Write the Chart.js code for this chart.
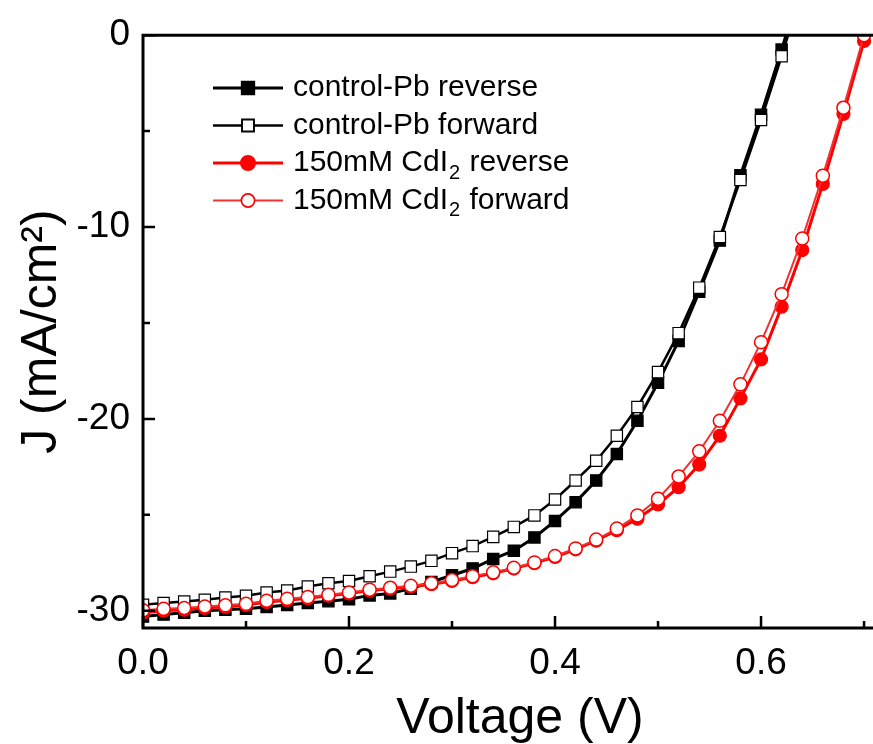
<!DOCTYPE html>
<html>
<head>
<meta charset="utf-8">
<script src="https://cdn.jsdelivr.net/npm/chart.js@4.4.0/dist/chart.umd.min.js"></script>
<style>
  html, body { margin: 0; padding: 0; background: #fff; overflow: hidden; }
  #wrap { width: 873px; height: 744px; overflow: hidden; }
</style>
</head>
<body>
<div id="wrap"><canvas id="canvas" width="897" height="744"></canvas></div>
<script>
// voltage steps (V)
const voltage = [0.00, 0.02, 0.04, 0.06, 0.08, 0.10, 0.12, 0.14, 0.16, 0.18,
  0.20, 0.22, 0.24, 0.26, 0.28, 0.30, 0.32, 0.34, 0.36, 0.38,
  0.40, 0.42, 0.44, 0.46, 0.48, 0.50, 0.52, 0.54, 0.56, 0.58,
  0.60, 0.62, 0.64, 0.66, 0.68, 0.70];

// current density (mA/cm2)
const pbReverse = [-30.3, -30.2, -30.1, -30.0, -29.95, -29.9, -29.8, -29.7, -29.6, -29.5,
  -29.4, -29.2, -29.1, -28.85, -28.5, -28.15, -27.8, -27.3, -26.87, -26.18,
  -25.32, -24.34, -23.21, -21.83, -20.1, -18.12, -15.94, -13.37, -10.7, -7.3,
  -4.15, -0.75, 2.8];
const pbForward = [-29.69, -29.6, -29.52, -29.43, -29.31, -29.22, -29.05, -28.95, -28.74, -28.57,
  -28.45, -28.2, -27.96, -27.7, -27.4, -27.0, -26.63, -26.15, -25.63, -25.03,
  -24.2, -23.21, -22.18, -20.88, -19.38, -17.56, -15.53, -13.16, -10.52, -7.55,
  -4.42, -1.1, 2.4];
const cdReverse = [-30.1, -30.0, -29.95, -29.85, -29.8, -29.7, -29.55, -29.45, -29.35, -29.22,
  -29.1, -28.95, -28.85, -28.75, -28.62, -28.45, -28.25, -28.05, -27.8, -27.52,
  -27.2, -26.8, -26.35, -25.8, -25.2, -24.46, -23.56, -22.38, -20.88, -18.93,
  -16.9, -14.15, -11.2, -7.75, -4.1, -0.3];
const cdForward = [-29.98, -29.9, -29.86, -29.78, -29.72, -29.64, -29.48, -29.38, -29.29, -29.17,
  -29.05, -28.9, -28.8, -28.7, -28.57, -28.4, -28.2, -28.0, -27.76, -27.48,
  -27.15, -26.75, -26.29, -25.72, -25.03, -24.16, -23.0, -21.69, -20.1, -18.2,
  -16.0, -13.5, -10.6, -7.32, -3.78, 0.0];

const xTicks = [0, 0.2, 0.4, 0.6];
const xMinor = [0.1, 0.3, 0.5, 0.7];
const yTicks = [-30, -20, -10, 0];
const yMinor = [-25, -15, -5];

const FONT = "'Liberation Sans', Arial, sans-serif";
const RED = '#ff0000';

function pts(ys) {
  return ys.map((y, i) => ({ x: voltage[i], y: y }));
}

const dataC = {
  datasets: [
    {
      label: 'control-Pb reverse',
      data: pts(pbReverse),
      borderColor: '#000', backgroundColor: '#000',
      borderWidth: 3, pointStyle: 'rect', pointRadius: 8,
      pointBorderWidth: 1.2, pointBorderColor: '#000', pointBackgroundColor: '#000',
      order: 4,
    },
    {
      label: 'control-Pb forward',
      data: pts(pbForward),
      borderColor: '#000', backgroundColor: '#fff',
      borderWidth: 2.5, pointStyle: 'rect', pointRadius: 8,
      pointBorderWidth: 1.2, pointBorderColor: '#000', pointBackgroundColor: '#fff',
      order: 3,
    },
    {
      label: '150mM CdI|2| reverse',
      data: pts(cdReverse),
      borderColor: RED, backgroundColor: RED,
      borderWidth: 3, pointStyle: 'circle', pointRadius: 6.5,
      pointBorderWidth: 1.2, pointBorderColor: RED, pointBackgroundColor: RED,
      order: 2,
    },
    {
      label: '150mM CdI|2| forward',
      data: pts(cdForward),
      borderColor: 'rgb(240,50,50)', backgroundColor: '#fff',
      borderWidth: 2, pointStyle: 'circle', pointRadius: 6.5,
      pointBorderWidth: 1.5, pointBorderColor: RED, pointBackgroundColor: '#fff',
      order: 1,
    },
  ],
};

// frame with inward ticks + hand drawn legend
const framePlugin = {
  id: 'frame',
  afterDatasetsDraw(chart) {
    const { ctx, chartArea: a, scales } = chart;
    const xs = scales.x, ys = scales.y;
    ctx.save();
    ctx.strokeStyle = '#000';
    ctx.lineWidth = 3;
    ctx.beginPath();
    ctx.moveTo(a.right + 2, a.top); ctx.lineTo(a.left, a.top);
    ctx.lineTo(a.left, a.bottom); ctx.lineTo(a.right + 2, a.bottom);
    ctx.stroke();
    ctx.lineWidth = 2.5;
    ctx.beginPath();
    xTicks.forEach(v => { const p = xs.getPixelForValue(v); ctx.moveTo(p, a.bottom); ctx.lineTo(p, a.bottom - 12); });
    xMinor.forEach(v => { const p = xs.getPixelForValue(v); ctx.moveTo(p, a.bottom); ctx.lineTo(p, a.bottom - 7); });
    yTicks.forEach(v => { const p = ys.getPixelForValue(v); ctx.moveTo(a.left, p); ctx.lineTo(a.left + 12, p); });
    yMinor.forEach(v => { const p = ys.getPixelForValue(v); ctx.moveTo(a.left, p); ctx.lineTo(a.left + 7, p); });
    ctx.stroke();

    // legend
    const rows = [88, 125.5, 163, 200.5];
    chart.data.datasets.forEach((ds, i) => {
      const y = rows[i];
      ctx.strokeStyle = ds.borderColor;
      ctx.lineWidth = ds.borderWidth;
      ctx.beginPath(); ctx.moveTo(213, y); ctx.lineTo(283, y); ctx.stroke();
      Chart.helpers.drawPoint(ctx, {
        pointStyle: ds.pointStyle, radius: ds.pointRadius, borderWidth: ds.pointBorderWidth, rotation: 0
      }, 248, y);
      ctx.fillStyle = ds.pointBackgroundColor;
      ctx.strokeStyle = ds.pointBorderColor;
      ctx.lineWidth = ds.pointBorderWidth;
      ctx.fill(); ctx.stroke();

      // text, with |2| as a subscript
      ctx.fillStyle = '#000';
      ctx.textBaseline = 'middle';
      ctx.textAlign = 'left';
      let x = 293;
      ds.label.split('|').forEach((part, k) => {
        if (k % 2 === 1) {
          ctx.font = '20px ' + FONT;
          ctx.fillText(part, x + 1, y + 10);
          x += ctx.measureText(part).width + 2;
        } else {
          ctx.font = '30px ' + FONT;
          ctx.fillText(part, x, y);
          x += ctx.measureText(part).width;
        }
      });
    });
    ctx.restore();
  }
};

const config = {
  type: 'line',
  data: dataC,
  options: {
    responsive: false,
    animation: false,
    layout: { autoPadding: false, padding: { top: 32, right: 0, left: 0, bottom: 0 } },
    elements: { line: { tension: 0 } },
    datasets: { line: { clip: 0 } },
    plugins: { legend: { display: false }, tooltip: { enabled: false } },
    scales: {
      x: {
        type: 'linear', min: 0, max: 0.732,
        grid: { display: false, drawTicks: false }, border: { display: false },
        afterBuildTicks: s => { s.ticks = xTicks.map(v => ({ value: v })); },
        afterFit: s => { s.height = 116; },
        ticks: { color: '#000', padding: 14, font: { family: FONT, size: 37 }, callback: v => v.toFixed(1) },
        title: { display: true, text: 'Voltage (V)', color: '#000', padding: { top: 0, bottom: 0 },
                 font: { family: FONT, size: 50, lineHeight: 1 } },
      },
      y: {
        type: 'linear', min: -30.9, max: 0,
        grid: { display: false, drawTicks: false }, border: { display: false },
        afterBuildTicks: s => { s.ticks = yTicks.map(v => ({ value: v })); },
        afterFit: s => { s.width = 143; },
        ticks: { color: '#000', padding: 13, font: { family: FONT, size: 37 }, callback: v => String(v) },
        title: { display: true, text: 'J (mA/cm²)', color: '#000', padding: { top: 17, bottom: 0 },
                 font: { family: FONT, size: 50, lineHeight: 1 } },
      },
    },
  },
  plugins: [framePlugin],
};

const canvas = document.getElementById('canvas');
const chart = new Chart(canvas, config);
</script>
</body>
</html>
